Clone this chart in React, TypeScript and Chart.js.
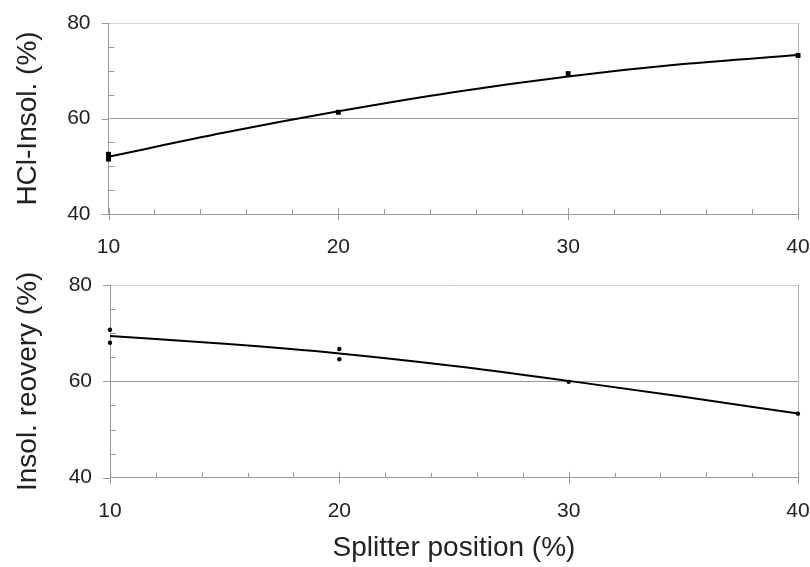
import React, { useEffect, useRef } from 'react';
import { Chart, registerables } from 'chart.js';

Chart.register(...registerables);

// ---- data ----
const hclPointX = [10, 10, 20, 30, 40];
const hclPointY = [52.5, 51.5, 61.3, 69.4, 73.2];
const fitX = [10, 15, 20, 25, 30, 35, 40];
const hclFitY = [52.0, 57.0, 61.5, 65.5, 68.8, 71.4, 73.3];

const recPointX = [10, 10, 20, 20, 30, 40];
const recPointY = [70.7, 68.0, 66.7, 64.6, 59.9, 53.3];
const recFitY = [69.4, 67.8, 65.8, 63.2, 60.1, 56.8, 53.3];

const xTickValues = [10, 20, 30, 40];
const yTickValues = [40, 60, 80];

const topTitle = 'HCl-Insol. (%)';
const bottomTitle = 'Insol. reovery (%)';
const xTitle = 'Splitter position (%)';

const FONT = "'Liberation Sans', Arial, sans-serif";
const AXIS = '#9a9a9a';

const ticksPlugin = {
  id: 'customTicks',
  afterDraw(chart: any) {
    const { ctx, chartArea, scales } = chart;
    const x = scales.x;
    const y = scales.y;
    ctx.save();
    ctx.strokeStyle = AXIS;
    ctx.lineWidth = 1;
    ctx.beginPath();
    for (let v = x.min; v <= x.max + 1e-9; v += 2) {
      const px = Math.round(x.getPixelForValue(v)) + 0.5;
      const major = xTickValues.includes(Math.round(v));
      ctx.moveTo(px, chartArea.bottom - (major ? 6 : 5));
      ctx.lineTo(px, chartArea.bottom + (major ? 6 : 0));
    }
    for (let v = y.min; v <= y.max + 1e-9; v += 5) {
      const py = Math.round(y.getPixelForValue(v)) + 0.5;
      const major = yTickValues.includes(Math.round(v));
      if (major) {
        ctx.moveTo(chartArea.left - 7, py);
        ctx.lineTo(chartArea.left, py);
      } else {
        ctx.moveTo(chartArea.left, py);
        ctx.lineTo(chartArea.left + 6, py);
      }
    }
    ctx.stroke();
    ctx.restore();
  },
};

type PanelProps = {
  height: number;
  top: number;
  plotLeft: number;
  plotBottom: number;
  pointX: number[];
  pointY: number[];
  fitY: number[];
  pointStyle: string;
  pointRadius: number;
  yTitle: string;
  showXTitle: boolean;
};

function Panel(p: PanelProps) {
  const ref = useRef<HTMLCanvasElement>(null);
  useEffect(() => {
    if (!ref.current) return;
    const chart = new Chart(ref.current, {
      type: 'scatter',
      data: {
        datasets: [
          {
            label: 'measured',
            data: p.pointX.map((xv, i) => ({ x: xv, y: p.pointY[i] })),
            pointStyle: p.pointStyle as any,
            pointRadius: p.pointRadius,
            backgroundColor: '#000',
            borderColor: '#000',
            borderWidth: 0,
            clip: false as any,
          },
          {
            label: 'fit',
            data: fitX.map((xv, i) => ({ x: xv, y: p.fitY[i] })),
            showLine: true,
            cubicInterpolationMode: 'monotone',
            borderColor: '#000',
            borderWidth: 2,
            pointRadius: 0,
            backgroundColor: '#000',
          } as any,
        ],
      },
      options: {
        animation: false,
        responsive: false,
        events: [],
        layout: { padding: { top: 23, right: 12, left: 0, bottom: 0 } },
        plugins: { legend: { display: false }, tooltip: { enabled: false } },
        scales: {
          x: {
            type: 'linear',
            min: 10,
            max: 40,
            afterBuildTicks: (s: any) => {
              s.ticks = xTickValues.map((v) => ({ value: v }));
            },
            afterFit: (s: any) => {
              s.height = p.height - p.plotBottom;
            },
            ticks: {
              color: '#222',
              font: { size: 21, family: FONT },
              padding: 0,
              maxRotation: 0,
            },
            grid: {
              drawTicks: true,
              tickLength: 21,
              tickColor: 'rgba(0,0,0,0)',
              color: (c: any) => (c.tick && c.tick.value === 40 ? '#b5b5b5' : 'rgba(0,0,0,0)'),
            },
            border: { display: true, color: AXIS },
            title: {
              display: p.showXTitle,
              text: xTitle,
              color: '#222',
              font: { size: 28, family: FONT },
              padding: { top: 0, bottom: 2 },
            },
          },
          y: {
            type: 'linear',
            min: 40,
            max: 80,
            afterBuildTicks: (s: any) => {
              s.ticks = yTickValues.map((v) => ({ value: v }));
            },
            afterFit: (s: any) => {
              s.width = p.plotLeft;
            },
            ticks: {
              color: '#222',
              font: { size: 21, family: FONT },
              padding: 0,
            },
            grid: {
              drawTicks: true,
              tickLength: 18,
              tickColor: 'rgba(0,0,0,0)',
              color: (c: any) => (c.tick && c.tick.value === 80 ? '#d2d2d2' : AXIS),
            },
            border: { display: true, color: AXIS },
            title: {
              display: true,
              text: p.yTitle,
              color: '#222',
              font: { size: 28, family: FONT },
              padding: { top: 11, bottom: 0 },
            },
          },
        },
      },
      plugins: [ticksPlugin],
    });
    return () => chart.destroy();
  }, []);
  return (
    <canvas
      ref={ref}
      width={810}
      height={p.height}
      style={{ position: 'absolute', left: 0, top: p.top, width: 810, height: p.height }}
    />
  );
}

export default function App() {
  return (
    <div style={{ position: 'absolute', left: 0, top: 0, width: 810, height: 567, background: '#fff' }}>
      <Panel
        height={262}
        top={0}
        plotLeft={108.5}
        plotBottom={214}
        pointX={hclPointX}
        pointY={hclPointY}
        fitY={hclFitY}
        pointStyle="rect"
        pointRadius={3.5}
        yTitle={topTitle}
        showXTitle={false}
      />
      <Panel
        height={305}
        top={262}
        plotLeft={110}
        plotBottom={215.7}
        pointX={recPointX}
        pointY={recPointY}
        fitY={recFitY}
        pointStyle="circle"
        pointRadius={2.2}
        yTitle={bottomTitle}
        showXTitle={true}
      />
    </div>
  );
}
